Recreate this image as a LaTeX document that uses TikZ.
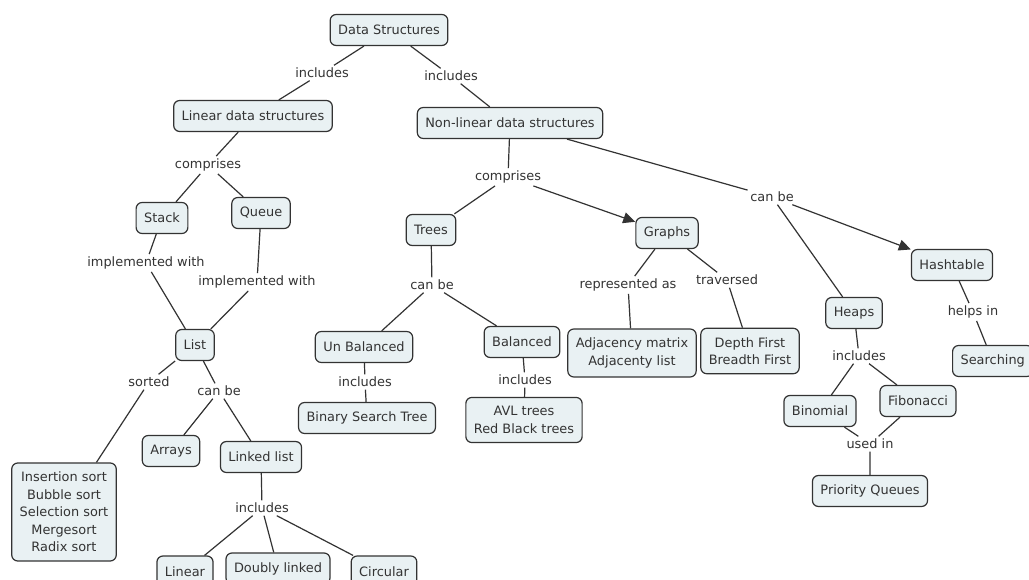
\documentclass[tikz,border=0pt]{standalone}
\usepackage{fontspec}
\setmainfont{DejaVu Sans}
\usetikzlibrary{arrows.meta}
\definecolor{conceptfill}{HTML}{E9F1F3}
\definecolor{inkgray}{HTML}{333333}
\begin{document}
\begin{tikzpicture}[x=1pt,y=-1pt,
  concept/.style={draw=inkgray, line width=1.2pt, fill=conceptfill, rounded corners=6pt,
    inner xsep=8pt, inner ysep=9pt, minimum height=31pt, align=center,
    font=\fontsize{12.9}{17.5}\selectfont, text=inkgray},
  linkword/.style={inner sep=2.5pt, font=\fontsize{12.9}{15}\selectfont, text=inkgray},
  link/.style={draw=inkgray, line width=1.2pt},
  linkarrow/.style={link, -{Triangle[length=12pt,width=11pt]}}]
\useasboundingbox[fill=white] (0,0) rectangle (1029,580);

% concepts
\node[concept] (ds) at (389,30) {Data Structures};
\node[concept] (lin) at (253,116) {Linear data structures};
\node[concept] (nonlin) at (510,123) {Non-linear data structures};
\node[concept] (stack) at (162,218) {Stack};
\node[concept] (queue) at (261,213) {Queue};
\node[concept] (list) at (195,345) {List};
\node[concept] (sorts) at (64,512) {Insertion sort\\Bubble sort\\Selection sort\\Mergesort\\Radix sort};
\node[concept] (arrays) at (171,451) {Arrays};
\node[concept] (linked) at (261,457) {Linked list};
\node[concept] (linear) at (185,571.5) {Linear};
\node[concept] (doubly) at (278,568.5) {Doubly linked};
\node[concept] (circular) at (384,571.5) {Circular};
\node[concept] (trees) at (431,230) {Trees};
\node[concept] (graphs) at (667,233) {Graphs};
\node[concept] (unbal) at (364,347) {Un Balanced};
\node[concept] (bal) at (522,342) {Balanced};
\node[concept] (bst) at (367,418) {Binary Search Tree};
\node[concept] (avl) at (524,420) {AVL trees\\Red Black trees};
\node[concept] (adj) at (632,353) {Adjacency matrix\\Adjacenty list};
\node[concept] (dfs) at (750,351) {Depth First\\Breadth First};
\node[concept] (hash) at (952,265) {Hashtable};
\node[concept] (heaps) at (854,313) {Heaps};
\node[concept, anchor=west] (search) at (952,361) {Searching};
\node[concept] (binom) at (820,411) {Binomial};
\node[concept] (fib) at (918,401) {Fibonacci};
\node[concept] (pq) at (870,491) {Priority Queues};

% linking phrases
\node[linkword] (inc1) at (322,73) {includes};
\node[linkword] (inc2) at (451,76) {includes};
\node[linkword] (comp1) at (208,165) {comprises};
\node[linkword] (impl1) at (146,263) {implemented with};
\node[linkword] (impl2) at (257,282) {implemented with};
\node[linkword] (sorted) at (149,382) {sorted};
\node[linkword] (canlist) at (219,391) {can be};
\node[linkword] (inclist) at (262,508) {includes};
\node[linkword] (comp2) at (508,177) {comprises};
\node[linkword] (cannon) at (772,197) {can be};
\node[linkword] (cantree) at (432,285) {can be};
\node[linkword] (incunb) at (365,382) {includes};
\node[linkword] (incbal) at (525,380) {includes};
\node[linkword] (repr) at (628,285) {represented as};
\node[linkword] (trav) at (727,280) {traversed};
\node[linkword] (helps) at (973,312) {helps in};
\node[linkword] (incheap) at (859,356) {includes};
\node[linkword] (used) at (870,444) {used in};

% connections
\draw[link] (ds) -- (inc1) -- (lin);
\draw[link] (ds) -- (inc2) -- (nonlin);
\draw[link] (lin) -- (comp1) -- (stack);
\draw[link] (comp1) -- (queue);
\draw[link] (stack) -- (impl1) -- (list);
\draw[link] (queue) -- (impl2) -- (list);
\draw[link] (list) -- (sorted) -- (sorts);
\draw[link] (list) -- (canlist) -- (arrays);
\draw[link] (canlist) -- (linked);
\draw[link] (linked) -- (inclist) -- (linear);
\draw[link] (inclist) -- (doubly);
\draw[link] (inclist) -- (circular);
\draw[link] (nonlin) -- (comp2) -- (trees);
\draw[linkarrow] (comp2) -- (graphs);
\draw[link] (nonlin) -- (cannon) -- (heaps);
\draw[linkarrow] (cannon) -- (hash);
\draw[link] (trees) -- (cantree) -- (unbal);
\draw[link] (cantree) -- (bal);
\draw[link] (unbal) -- (incunb) -- (bst);
\draw[link] (bal) -- (incbal) -- (avl);
\draw[link] (graphs) -- (repr) -- (adj);
\draw[link] (graphs) -- (trav) -- (dfs);
\draw[link] (hash) -- (helps) -- (search);
\draw[link] (heaps) -- (incheap) -- (binom);
\draw[link] (incheap) -- (fib);
\draw[link] (binom) -- (used) -- (pq);
\draw[link] (fib) -- (used);
\end{tikzpicture}
\end{document}
